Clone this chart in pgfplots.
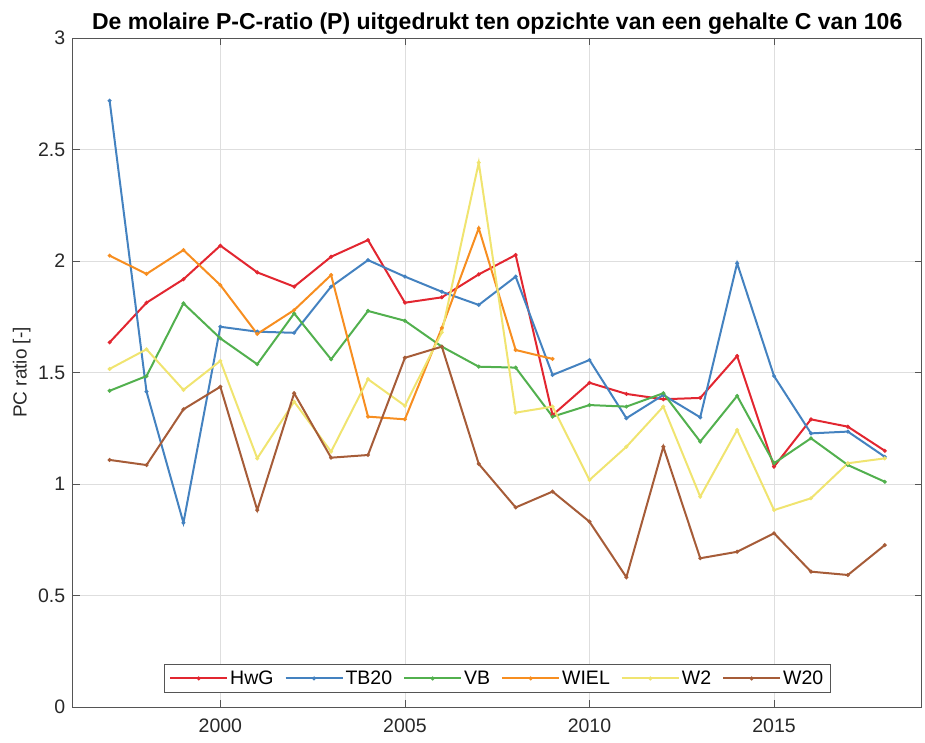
\documentclass[border=0pt]{standalone}
\usepackage{pgfplots}
\usepackage{pgfplotstable}
\pgfplotsset{compat=1.18}
\usepackage{fontspec}
\setmainfont{Liberation Sans}
\definecolor{cHwG}{RGB}{226,38,48}
\definecolor{cTB}{RGB}{68,130,192}
\definecolor{cVB}{RGB}{82,176,78}
\definecolor{cWIEL}{RGB}{247,142,32}
\definecolor{cW2}{RGB}{240,228,112}
\definecolor{cW20}{RGB}{166,92,56}
\definecolor{axc}{RGB}{85,85,85}
\definecolor{txc}{RGB}{40,40,40}
\pgfplotstableread{
year HwG TB20 VB W2 W20
1997 1.635 2.719 1.418 1.516 1.108
1998 1.813 1.414 1.484 1.604 1.085
1999 1.918 0.826 1.810 1.422 1.335
2000 2.069 1.705 1.653 1.552 1.436
2001 1.949 1.683 1.537 1.115 0.883
2002 1.885 1.678 1.765 1.369 1.407
2003 2.019 1.885 1.559 1.145 1.118
2004 2.094 2.004 1.776 1.470 1.130
2005 1.813 1.930 1.732 1.351 1.566
2006 1.837 1.862 1.616 1.680 1.616
2007 1.940 1.803 1.526 2.441 1.090
2008 2.027 1.930 1.522 1.320 0.895
2009 1.309 1.489 1.302 1.347 0.966
2010 1.454 1.556 1.354 1.018 0.831
2011 1.404 1.295 1.347 1.167 0.582
2012 1.380 1.399 1.407 1.347 1.167
2013 1.386 1.299 1.190 0.943 0.667
2014 1.574 1.990 1.395 1.242 0.696
2015 1.078 1.484 1.093 0.883 0.779
2016 1.290 1.227 1.205 0.936 0.607
2017 1.257 1.235 1.085 1.093 0.592
2018 1.149 1.122 1.010 1.115 0.726
}\datatable
\pgfplotstableread{
year WIEL
1997 2.024
1998 1.942
1999 2.049
2000 1.892
2001 1.673
2002 1.780
2003 1.937
2004 1.302
2005 1.290
2006 1.700
2007 2.147
2008 1.601
2009 1.561
}\wieltable
\begin{document}
\begin{tikzpicture}
\useasboundingbox (-72.7pt,-35pt) rectangle (852.3pt,707pt);
\begin{axis}[
  at={(0pt,0pt)}, anchor=south west,
  scale only axis, width=849pt, height=669pt,
  xmin=1996, xmax=2019, ymin=0, ymax=3,
  xtick={2000,2005,2010,2015},
  ytick={0,0.5,1,1.5,2,2.5,3},
  /pgf/number format/1000 sep={},
  /pgf/number format/assume math mode=true,
  tick align=inside,
  major tick length=7pt,
  tick style={axc, line width=0.7pt},
  axis line style={axc, line width=0.9pt},
  grid=major,
  major grid style={black!13, line width=0.6pt},
  ticklabel style={font=\fontsize{19.5}{23}\selectfont, text=txc},
  xticklabel style={yshift=-8pt},
  yticklabel style={xshift=-4pt},
  title={De molaire P-C-ratio (P) uitgedrukt ten opzichte van een gehalte C van 106},
  title style={font=\bfseries\fontsize{23}{27}\selectfont, yshift=-6pt},
  ylabel={PC ratio [-]},
  ylabel style={font=\fontsize{19}{23}\selectfont, at={(axis description cs:-0.06,0.5)}, anchor=center, text=txc},
  every axis plot/.append style={line width=2pt, mark=*, mark size=0.8pt},
  legend columns=6,
  legend style={at={(0.5,0.021)}, anchor=south, font=\fontsize{19.5}{23}\selectfont,
    draw=axc, line width=0.9pt, inner xsep=5pt, inner ysep=4.5pt,
    /tikz/every even column/.append style={column sep=9pt}},
  legend image code/.code={\draw[line width=2pt, mark repeat=2,mark phase=2] plot coordinates {(0pt,0pt)(28.5pt,0pt)(57pt,0pt)};},
]
\addplot[cHwG] table[x=year,y=HwG]{\datatable};
\addlegendentry{HwG}
\addplot[cTB] table[x=year,y=TB20]{\datatable};
\addlegendentry{TB20}
\addplot[cVB] table[x=year,y=VB]{\datatable};
\addlegendentry{VB}
\addplot[cWIEL] table[x=year,y=WIEL]{\wieltable};
\addlegendentry{WIEL}
\addplot[cW2] table[x=year,y=W2]{\datatable};
\addlegendentry{W2}
\addplot[cW20] table[x=year,y=W20]{\datatable};
\addlegendentry{W20}
\end{axis}
\end{tikzpicture}
\end{document}
